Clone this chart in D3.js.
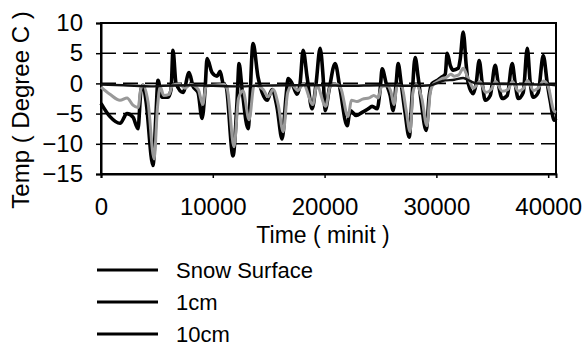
<!DOCTYPE html>
<html>
<head>
<meta charset="utf-8">
<script src="https://cdn.jsdelivr.net/npm/d3@7"></script>
<style>
  body { margin: 0; background: #fff; }
  svg { font-family: "Liberation Sans", Arial, sans-serif; }
</style>
</head>
<body>
<svg id="chart" width="587" height="349"></svg>
<script>
// series data (time in minutes, temperature in degree C)
const surfaceTime = [0, 805, 1700, 2330, 2860, 3310, 3580, 3760, 4030, 4650, 4920, 5100, 5460, 6000, 6270, 6440, 6710,
  7340, 7880, 8230, 8680, 9040, 9310, 9490, 9930, 10380, 10650, 10920, 11190, 11810, 12170, 12350, 12620, 13160,
  13600, 14050, 14410, 14860, 15300, 15750, 16200, 16560, 16740, 17090, 17540, 17810, 18080, 18440, 18880, 19240,
  19600, 19870, 20050, 20410, 20940, 21390, 22020, 22290, 22820, 23360, 23900, 24250, 24700, 24970, 25150, 25510,
  25870, 26130, 26400, 26580, 26850, 27210, 27570, 27830, 28100, 28370, 28640, 29090, 29360, 29620, 30070, 30430,
  30790, 30970, 31240, 31500, 31950, 32130, 32400, 32670, 32850, 33290, 33560, 33830, 34100, 34370, 34820, 35260,
  35530, 35890, 36340, 36780, 37050, 37320, 37770, 38130, 38400, 38660, 39110, 39560, 39920, 40190, 40540, 40700];
const surfaceTemp = [-3.3, -5.5, -6.6, -5.0, -5.6, -7.5, -1.0, -0.3, -3.0, -13.6, -5.0, 0.5, -2.3, -2.3, -1.0, 5.5, 0,
  -1.5, 1.8, -0.5, -1.5, -5.8, -1.0, 4.1, 1.8, 1.2, 2.0, 0, -0.5, -12.0, -3.0, 3.3, -1.0, -7.5,
  6.6, 1.0, -1.5, -2.8, -1.0, -4.0, -9.2, -2.0, 0.8, 0, -1.8, 0, 5.5, 1.0, -4.2, 0,
  5.8, 1.0, -4.5, -1.0, 3.3, -1.0, -7.0, -4.5, -5.3, -4.8, -4.2, -3.8, -4.2, -1.0, 2.4, 0,
  -2.0, -4.5, 0, 3.3, 0, -5.0, -8.9, -2.0, 4.3, 1.0, -3.0, -7.8, -2.0, 0, 0.5, 1.0,
  1.5, 5.0, 3.0, 2.2, 2.5, 4.0, 8.5, 3.0, 0, -1.7, 0, 3.8, 0, -2.8, -2.0, 3.0,
  0, -2.5, -2.0, 3.3, 0, -2.5, -1.5, 5.8, 0, -2.3, -1.5, 4.6, 0, -3.0, -6.1, -5.8];

const cm1Time = [0, 800, 1700, 2330, 2860, 3310, 3580, 3760, 4200, 4750, 5050, 5300, 5600, 6100, 6400, 7000, 7500,
  8000, 8700, 9100, 9400, 10000, 11000, 11300, 11900, 12300, 12700, 13250, 13700, 14500, 14950, 15400, 15850,
  16300, 16700, 17100, 17600, 18100, 18950, 19300, 20100, 20500, 21000, 21450, 22100, 22400, 22900, 23400, 24000,
  24400, 24800, 25100, 25600, 25950, 26200, 26500, 26900, 27300, 27650, 27900, 28200, 28700, 29150, 29450, 29700,
  30100, 30500, 30900, 31300, 31600, 32000, 32400, 32800, 33000, 33300, 33900, 34400, 34900, 35300, 35900, 36400,
  36800, 37350, 37800, 38150, 38700, 39100, 39600, 40000, 40500, 40700];
const cm1Temp = [-0.6, -1.8, -2.8, -2.4, -3.6, -4.0, -0.8, -0.3, -3.0, -12.5, -4.0, -0.5, -2.0, -1.8, -0.3, -0.1, -0.8,
  -0.2, -1.0, -3.5, -0.5, -0.3, -0.2, -1.0, -10.5, -2.5, -1.2, -6.0, -0.3, -1.0, -2.2, -1.0, -3.5,
  -8.0, -1.5, -0.3, -1.2, -0.1, -3.5, -0.3, -3.8, -0.5, -0.1, -0.8, -5.5, -2.8, -3.0, -2.6, -2.4,
  -2.0, -2.4, -0.5, -0.4, -1.5, -3.5, -0.3, -0.5, -4.5, -8.0, -1.5, -0.2, -2.5, -7.0, -1.5, -0.2,
  0.3, 0.8, 1.0, 1.5, 1.2, 1.4, 2.5, 1.0, 0.2, -0.8, 0.3, -1.5, -1.0, 0.3, -1.3, -1.0,
  0.3, -1.3, -0.8, 0.5, -1.2, -0.8, 0.4, -0.5, -4.5, -4.8];

const cm10Time = [0, 2000, 4500, 5500, 8000, 12000, 14000, 17000, 20000, 22000, 25000, 28000, 29500, 30000, 30800,
  31600, 32400, 33000, 33600, 36000, 40000, 40700];
const cm10Temp = [-0.2, -0.3, -0.5, -0.4, -0.3, -0.5, -0.4, -0.3, -0.3, -0.4, -0.3, -0.4, -0.3, 0, 0.5,
  0.6, 0.9, 0.4, 0, -0.1, -0.2, -0.3];

const seriesNames = ["Snow Surface", "1cm", "10cm"];
const xTicks = [0, 10000, 20000, 30000, 40000];
const yTicks = [10, 5, 0, -5, -10, -15];
const gridValues = [5, 0, -5, -10];

const svg = d3.select("#chart");
const plotLeft = 101, plotRight = 556, plotTop = 23, plotBottom = 174;

const x = d3.scaleLinear().domain([0, 40700]).range([plotLeft, plotRight]);
const y = d3.scaleLinear().domain([-15, 10]).range([plotBottom, plotTop]);

// dashed gridlines
svg.append("g").selectAll("line")
  .data(gridValues)
  .enter().append("line")
  .attr("x1", plotLeft).attr("x2", plotRight)
  .attr("y1", d => y(d)).attr("y2", d => y(d))
  .attr("stroke", "#000").attr("stroke-width", 1.6)
  .attr("stroke-dasharray", "15,7");

// frame
svg.append("rect")
  .attr("x", plotLeft).attr("y", plotTop)
  .attr("width", plotRight - plotLeft).attr("height", plotBottom - plotTop)
  .attr("fill", "none").attr("stroke", "#000").attr("stroke-width", 2);

// axes
const yAxis = svg.append("g")
  .attr("transform", "translate(" + plotLeft + ",0)")
  .call(d3.axisLeft(y).tickValues(yTicks).tickSize(5).tickPadding(13));
const xAxis = svg.append("g")
  .attr("transform", "translate(0," + plotBottom + ")")
  .call(d3.axisBottom(x).tickValues(xTicks).tickSize(4).tickPadding(20).tickFormat(d3.format("d")));

[xAxis, yAxis].forEach(a => {
  a.select(".domain").attr("stroke-width", 2);
  a.selectAll(".tick line").attr("stroke-width", 1.5);
  a.selectAll("text").attr("font-size", 24).attr("fill", "#000")
    .attr("font-family", "Liberation Sans, Arial, sans-serif");
});

// axis titles
svg.append("text")
  .attr("x", 323).attr("y", 243)
  .attr("text-anchor", "middle")
  .attr("font-size", 23)
  .text("Time ( minit )");

svg.append("text")
  .attr("transform", "translate(29,110) rotate(-90)")
  .attr("text-anchor", "middle")
  .attr("font-size", 24)
  .text("Temp ( Degree C )");

// lines
const line = d3.line()
  .x(d => x(d[0]))
  .y(d => y(d[1]))
  .curve(d3.curveMonotoneX);

const series = [
  { name: seriesNames[0], pts: d3.zip(surfaceTime, surfaceTemp), color: "#000", width: 3.6 },
  { name: seriesNames[1], pts: d3.zip(cm1Time, cm1Temp), color: "#999", width: 3 },
  { name: seriesNames[2], pts: d3.zip(cm10Time, cm10Temp), color: "#111", width: 2.4 }
];

svg.append("g").selectAll("path")
  .data(series)
  .enter().append("path")
  .attr("d", d => line(d.pts))
  .attr("fill", "none")
  .attr("stroke", d => d.color)
  .attr("stroke-width", d => d.width)
  .attr("stroke-linejoin", "round");

// legend
const legend = svg.append("g").selectAll("g")
  .data(series)
  .enter().append("g")
  .attr("transform", (d, i) => "translate(97," + (270 + i * 32) + ")");

legend.append("line")
  .attr("x1", 0).attr("x2", 61)
  .attr("stroke", "#000").attr("stroke-width", 3);

legend.append("text")
  .attr("x", 79).attr("y", 8)
  .attr("font-size", 22)
  .text(d => d.name);
</script>
</body>
</html>
